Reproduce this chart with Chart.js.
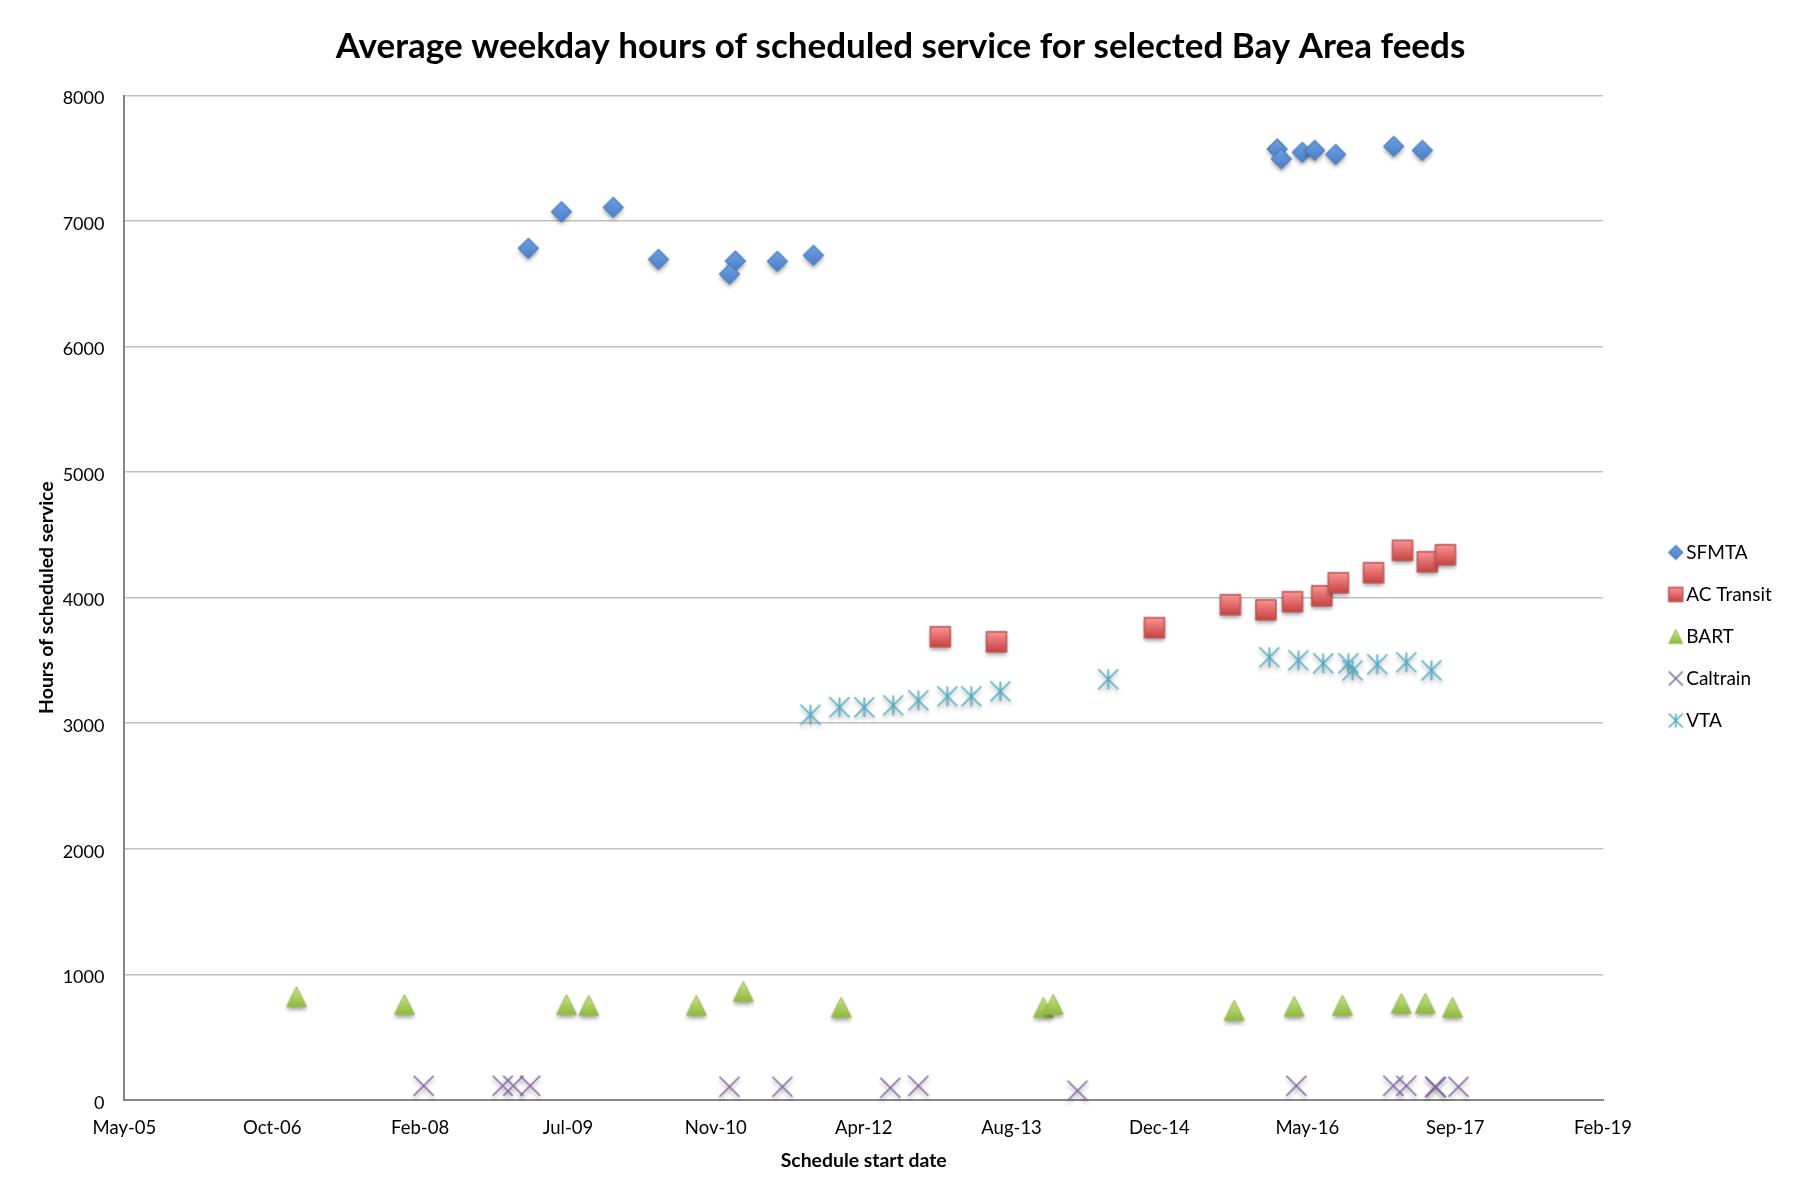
<!DOCTYPE html>
<html>
<head>
<meta charset="utf-8">
<title>Average weekday hours of scheduled service</title>
<script src="https://cdn.jsdelivr.net/npm/chart.js@4/dist/chart.umd.min.js"></script>
<style>
html,body{margin:0;padding:0;background:#fff;overflow:hidden}
canvas{display:block}
</style>
</head>
<body>
<canvas id="c" width="1801" height="1201"></canvas>
<script>
// Dates are Excel date serials, the axis runs 38500..43500 in steps of 500.
const xTickLabels = ["May-05","Oct-06","Feb-08","Jul-09","Nov-10","Apr-12","Aug-13","Dec-14","May-16","Sep-17","Feb-19"];

const sfmtaX = [39866,39978,40153,40306,40566,40546,40708,40830,42398,42412,42483,42525,42596,42792,42889];
const sfmtaY = [6783,7074,7109,6695,6682,6578,6679,6727,7574,7496,7547,7563,7531,7595,7563];

const acX = [41259,41449,41983,42240,42360,42450,42549,42605,42724,42822,42906,42967];
const acY = [3689,3649,3761,3944,3904,3968,4015,4119,4199,4377,4286,4342];

const bartX = [39082,39447,39995,40070,40434,40593,40924,41608,41641,42253,42456,42619,42818,42899,42991];
const bartY = [821,759,759,753,753,864,737,737,761,713,745,753,769,769,737];

const caltrainX = [39512,39779,39815,39872,40546,40725,41090,41185,41723,42463,42791,42835,42932,42935,43011];
const caltrainY = [112,112,112,112,104,104,96,112,73,112,112,112,104,100,104];

const vtaX = [40820,40918,41002,41100,41185,41283,41364,41462,41827,42372,42470,42554,42639,42653,42737,42835,42920];
const vtaY = [3068,3127,3127,3142,3182,3214,3214,3254,3350,3525,3501,3477,3477,3421,3469,3485,3421];

const seriesNames = ["SFMTA","AC Transit","BART","Caltrain","VTA"];

const FONT = "Lato, Carlito, Calibri, sans-serif";

function sprite(kind, half, shadow){
  const pad = Math.ceil(half) + 8, size = pad*2;
  const cv = document.createElement('canvas');
  cv.width = size; cv.height = size;
  const g = cv.getContext('2d');
  g.translate(pad,pad);
  if (shadow){
    g.shadowColor = 'rgba(0,0,0,0.38)';
    g.shadowBlur = 4;
    g.shadowOffsetY = 3;
  }
  const grad = (a,b)=>{const l=g.createLinearGradient(0,-half,0,half);l.addColorStop(0,a);l.addColorStop(1,b);return l;};
  g.lineJoin='miter';
  if (kind==='diamond'){
    g.beginPath();g.moveTo(0,-half);g.lineTo(half,0);g.lineTo(0,half);g.lineTo(-half,0);g.closePath();
    g.fillStyle=grad('#6fa0e2','#4a7fc8');g.fill();
    g.shadowColor='transparent';g.strokeStyle='#4a7ebb';g.lineWidth=1.2;g.stroke();
  } else if (kind==='square'){
    g.beginPath();g.rect(-half,-half,half*2,half*2);
    g.fillStyle=grad('#fb9494','#c94242');g.fill();
    g.shadowColor='transparent';g.strokeStyle='#b85454';g.lineWidth=1.4;g.stroke();
  } else if (kind==='triangle'){
    g.beginPath();g.moveTo(0,-half);g.lineTo(half,half);g.lineTo(-half,half);g.closePath();
    g.fillStyle=grad('#c8e38a','#8dbb3c');g.fill();
    g.shadowColor='transparent';g.strokeStyle='#98b954';g.lineWidth=1;g.stroke();
  } else {
    g.lineCap='butt';
    g.lineWidth=1.5;
    g.strokeStyle = kind==='x' ? '#8064a2' : '#4bacc6';
    g.beginPath();
    g.moveTo(-half,-half);g.lineTo(half,half);
    g.moveTo(half,-half);g.lineTo(-half,half);
    if (kind==='star'){g.moveTo(0,-half);g.lineTo(0,half);}
    g.stroke();
  }
  return cv;
}

const kinds = ['diamond','square','triangle','x','star'];
const xsList = [sfmtaX,acX,bartX,caltrainX,vtaX];
const ysList = [sfmtaY,acY,bartY,caltrainY,vtaY];
const pointSprites = kinds.map(k=>sprite(k,10,true));
const legendSprites = kinds.map(k=>sprite(k,7,false));

const datasets = seriesNames.map((name,i)=>({
  label:name,
  data:xsList[i].map((x,j)=>({x,y:ysList[i][j]})),
  pointStyle:pointSprites[i],
  pointRadius:10,
  pointHoverRadius:10,
  showLine:false,
  clip:false
}));

const placeLegend = {
  id:'placeLegend',
  beforeLayout(chart){
    const lg = chart.legend;
    if (!lg._fixedFit){
      const fit = lg.fit;
      lg.fit = function(){ fit.call(this); this.width = 198; };
      lg._fixedFit = true;
    }
  },
  afterLayout(chart){
    chart.legend.left = 1651.7;
    chart.legend.top = 520;
  }
};

new Chart(document.getElementById('c'),{
  type:'scatter',
  data:{datasets},
  plugins:[placeLegend],
  options:{
    responsive:false,
    animation:false,
    devicePixelRatio:1,
    layout:{padding:0},
    plugins:{
      tooltip:{enabled:false},
      title:{
        display:true,
        text:"Average weekday hours of scheduled service for selected Bay Area feeds",
        color:'#000',
        font:{family:FONT,size:35,weight:'700',lineHeight:1.2},
        padding:{top:26,bottom:27.5}
      },
      legend:{
        display:true,
        position:'right',
        align:'start',
        labels:{
          color:'#000',
          font:{family:FONT,size:19},
          usePointStyle:true,
          pointStyleWidth:2,
          padding:23,
          generateLabels(chart){
            const items = Chart.defaults.plugins.legend.labels.generateLabels(chart);
            items.forEach((it,i)=>{it.pointStyle = legendSprites[i];});
            return items;
          }
        }
      }
    },
    scales:{
      x:{
        type:'linear',
        min:38500,max:43500,
        afterFit(s){s.height=101.2;},
        grid:{display:false,drawTicks:false},
        border:{display:true,color:'#868686',width:2},
        ticks:{
          stepSize:500,autoSkip:false,maxRotation:0,padding:17,color:'#000',
          font:{family:FONT,size:18.5},
          callback(v){return xTickLabels[Math.round((v-38500)/500)];}
        },
        title:{display:true,text:'Schedule start date',color:'#000',
          font:{family:FONT,size:19.4,weight:'700'},padding:{top:0,bottom:29}}
      },
      y:{
        min:0,max:8000,
        afterFit(s){s.width=124.4;},
        grid:{color:'#c0c0c0',lineWidth:1.5,drawTicks:false},
        border:{display:true,color:'#868686',width:2},
        ticks:{
          stepSize:1000,padding:20,labelOffset:3,color:'#000',
          font:{family:FONT,size:18},
          callback(v){return String(v);}
        },
        title:{display:true,text:'Hours of scheduled service',color:'#000',
          font:{family:FONT,size:19.4,weight:'700'},padding:{top:35,bottom:0}}
      }
    }
  }
});
</script>
</body>
</html>
